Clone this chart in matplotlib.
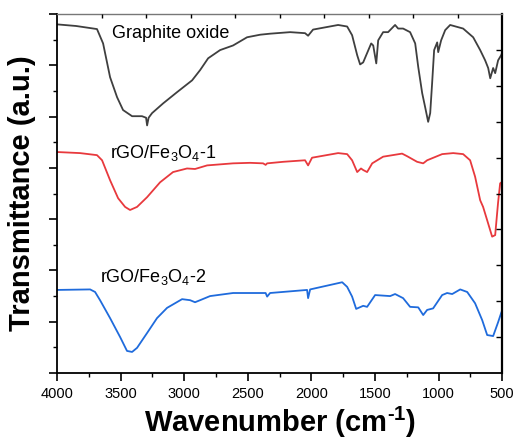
import matplotlib.pyplot as plt
from matplotlib.ticker import MultipleLocator

plt.rcParams["font.family"] = ["Liberation Sans", "DejaVu Sans"]
plt.rcParams["mathtext.fontset"] = "custom"
plt.rcParams["mathtext.rm"] = "Liberation Sans"
plt.rcParams["mathtext.bf"] = "Liberation Sans:bold"
plt.rcParams["mathtext.default"] = "rm"

# FTIR spectra, offset vertically (a.u.)
go_wn = [4000, 3992, 3850, 3686, 3638, 3583, 3528, 3481, 3410, 3332, 3300, 3292, 3280,
         3253, 3166, 3056, 2938, 2875, 2812, 2718, 2616, 2506, 2403, 2325, 2167, 2050,
         2026, 1987, 1790, 1719, 1680, 1640, 1617, 1593, 1530, 1514, 1490, 1475, 1436,
         1397, 1342, 1318, 1279, 1224, 1184, 1160, 1129, 1106, 1082, 1066, 1051, 1035,
         1011, 1003, 980, 948, 909, 807, 728, 673, 634, 610, 594, 571, 555, 532, 508, 500]
go_t = [6.80, 6.80, 6.77, 6.71, 6.43, 5.77, 5.38, 5.13, 5.01, 5.01, 4.98, 4.83, 4.98,
        5.07, 5.26, 5.48, 5.71, 5.91, 6.14, 6.30, 6.39, 6.55, 6.60, 6.62, 6.65, 6.63,
        6.58, 6.70, 6.79, 6.76, 6.59, 6.20, 6.02, 6.06, 6.43, 6.39, 6.04, 6.49, 6.65,
        6.65, 6.79, 6.72, 6.72, 6.65, 6.43, 5.97, 5.46, 5.19, 4.90, 5.07, 5.65, 6.30,
        6.45, 6.26, 6.49, 6.69, 6.79, 6.72, 6.55, 6.30, 6.10, 5.95, 5.75, 5.95, 5.85,
        6.10, 6.20, 6.25]

rgo1_wn = [4000, 3992, 3819, 3686, 3646, 3583, 3520, 3465, 3426, 3371, 3292, 3190, 3088,
           2978, 2915, 2820, 2616, 2482, 2380, 2360, 2348, 2222, 2050, 2026, 1995, 1790,
           1719, 1680, 1640, 1610, 1593, 1562, 1522, 1436, 1287, 1248, 1169, 1121, 1090,
           972, 885, 807, 752, 713, 673, 650, 618, 579, 555, 540, 532, 516, 500]
rgo1_t = [4.31, 4.31, 4.29, 4.25, 4.15, 3.76, 3.41, 3.24, 3.18, 3.24, 3.43, 3.72, 3.92,
          3.99, 3.98, 4.05, 4.09, 4.10, 4.09, 4.06, 4.09, 4.12, 4.15, 4.05, 4.20, 4.29,
          4.27, 4.15, 3.92, 3.99, 3.96, 3.92, 4.09, 4.22, 4.28, 4.23, 4.12, 4.09, 4.15,
          4.27, 4.29, 4.27, 4.15, 3.83, 3.37, 3.24, 2.98, 2.66, 2.69, 3.11, 3.33, 3.70, 3.73]

rgo2_wn = [4000, 3740, 3701, 3662, 3583, 3504, 3450, 3410, 3371, 3292, 3214, 3135, 3017,
           2954, 2915, 2875, 2797, 2616, 2403, 2360, 2348, 2325, 2034, 2026, 2010, 1758,
           1719, 1680, 1648, 1593, 1562, 1499, 1381, 1342, 1279, 1224, 1160, 1121, 1090,
           1043, 972, 933, 893, 830, 775, 713, 657, 618, 571, 532, 508, 500]
rgo2_t = [1.62, 1.63, 1.58, 1.42, 1.07, 0.70, 0.43, 0.41, 0.49, 0.78, 1.07, 1.27, 1.44,
          1.42, 1.38, 1.42, 1.50, 1.56, 1.56, 1.56, 1.49, 1.56, 1.62, 1.46, 1.63, 1.77,
          1.68, 1.49, 1.25, 1.31, 1.29, 1.52, 1.50, 1.54, 1.46, 1.29, 1.28, 1.13, 1.23,
          1.26, 1.52, 1.56, 1.54, 1.63, 1.58, 1.36, 1.03, 0.74, 0.72, 0.99, 1.17, 1.22]

fig = plt.figure(figsize=(5.14, 4.44), dpi=100)
ax = fig.add_axes([0.111, 0.160, 0.866, 0.808])

ax.plot(go_wn, go_t, color="#3f3f3f", lw=1.3)
ax.plot(rgo1_wn, rgo1_t, color="#e8393d", lw=1.3)
ax.plot(rgo2_wn, rgo2_t, color="#1f6bdc", lw=1.3)

ax.text(3567, 6.53, "Graphite oxide", fontsize=13, va="baseline")
ax.text(3583, 4.19, "rGO/Fe$_3$O$_4$-1", fontsize=13, va="baseline")
ax.text(3662, 1.77, "rGO/Fe$_3$O$_4$-2", fontsize=13, va="baseline")

ax.set_xlim(4000, 500)
ax.set_ylim(0, 7)
ax.xaxis.set_major_locator(MultipleLocator(500))
ax.xaxis.set_minor_locator(MultipleLocator(250))
ax.yaxis.set_major_locator(MultipleLocator(1))
ax.yaxis.set_minor_locator(MultipleLocator(0.5))
ax.set_yticklabels([])
ax.tick_params(axis="both", which="major", direction="out", length=6, width=1.2, labelsize=10.5)
ax.tick_params(axis="both", which="minor", direction="out", length=3, width=1.0)
ax.tick_params(axis="x", pad=4)
ax.spines["left"].set_linewidth(1.3)
ax.spines["bottom"].set_linewidth(1.3)
ax.spines["top"].set_color("#777777")
ax.spines["top"].set_linewidth(1.0)
ax.spines["right"].set_linewidth(1.6)

ax.set_xlabel("Wavenumber (cm$^{\\mathbf{\u2010}\\mathbf{1}}$)", fontsize=21,
              fontweight="bold", labelpad=3)
ax.set_ylabel("Transmittance (a.u.)", fontsize=21, fontweight="bold", labelpad=6)

# inward ticks on top and right edges
top = ax.twiny()
top.set_xlim(0, 1)
top.set_xticks([i / 10 for i in range(1, 10)])
top.tick_params(axis="x", direction="in", length=3, width=1.0, labeltop=False)
right = ax.twinx()
right.set_ylim(0, 1)
right.set_yticks([i / 10 for i in range(1, 10)])
right.tick_params(axis="y", direction="in", length=4, width=1.0, labelright=False)
for a in (top, right):
    a.spines["top"].set_visible(False)
    a.spines["right"].set_visible(False)
    a.spines["left"].set_visible(False)
    a.spines["bottom"].set_visible(False)

fig.savefig("out.png", dpi=100)
